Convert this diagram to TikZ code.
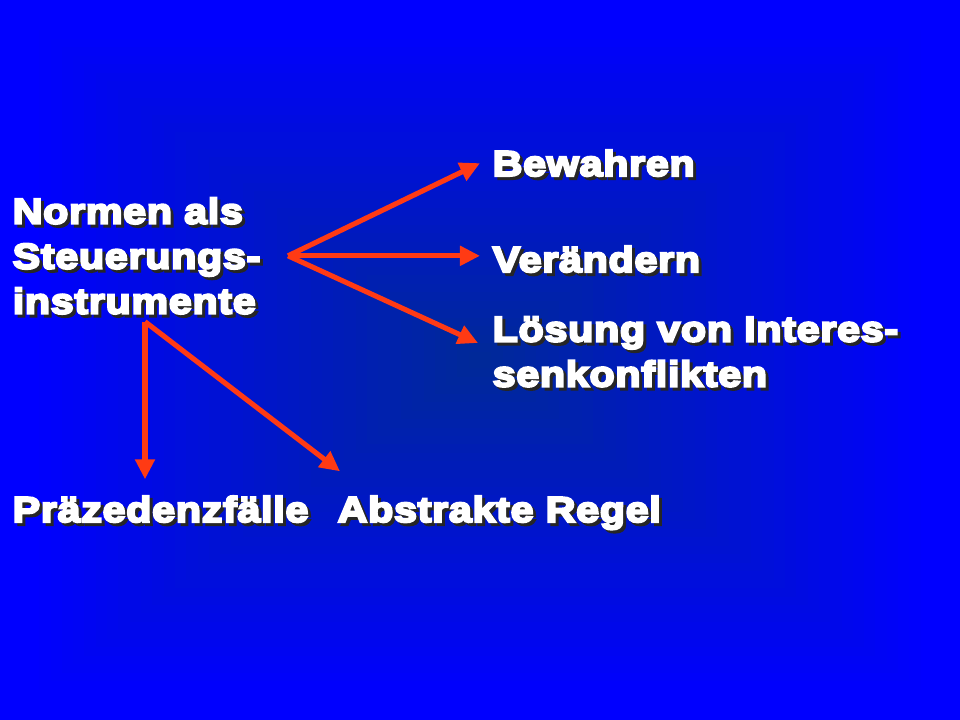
\documentclass[tikz,border=0pt]{standalone}
\usepackage{fontspec}
\newfontfamily\slidefont{Liberation Sans Bold}[FakeStretch=1.15,FakeBold=6,LetterSpace=2]
\usetikzlibrary{arrows.meta,
  calc,
  positioning
}
\definecolor{slideblue}{RGB}{0,0,255}
\definecolor{slidedark}{RGB}{0,42,150}
\definecolor{arrowred}{RGB}{255,58,20}
\tikzset{lbl/.style={inner sep=0, text=white, align=left,
    font=\slidefont\fontsize{10.2pt}{12.8pt}\selectfont},
  shdw/.style={text=black!85},
  arr/.style={arrowred, line width=1.45pt,
    -{Triangle[length=0.2cm, width=0.19cm]}}}
\newcommand{\shtext}[4]{%
  \node[lbl, shdw, anchor=#2] at ([shift={(0.03,-0.03)}]#3) {#4};
  \node[lbl, anchor=#2] (#1) at (#3) {#4};}

\begin{document}
\begin{tikzpicture}
  \useasboundingbox (0,0) rectangle (9.6,7.2);
  % background
  \fill[slideblue] (0,0) rectangle (9.6,7.2);
  \foreach \i in {0,...,39} {
    \pgfmathsetmacro\s{1-\i/40}
    \pgfmathsetmacro\p{\i*2.5}
    \fill[slidedark!\p!slideblue] ({4.8-4.52*\s},{3.6-3.38*\s}) rectangle ({4.8+4.52*\s},{3.6+3.38*\s});
  }

  % texts
  \shtext{norm}{north west}{0.12,5.23}{Normen als\\Steuerungs-\\instrumente}
  \shtext{bew}{base west}{4.92,5.44}{Bewahren}
  \shtext{ver}{base west}{4.92,4.48}{Verändern}
  \shtext{loes}{north west}{4.92,4.04}{Lösung von Interes-\\senkonflikten}
  \shtext{praez}{base west}{0.12,1.98}{Präzedenzfälle}
  \shtext{abstr}{base west}{3.37,1.98}{Abstrakte Regel}

  % forks
  \coordinate (fork) at ([xshift=0.27cm]norm.east);
  \coordinate (lfork) at ([shift={(1.33,-0.07)}]norm.south west);
  \path (lfork |- praez.north) ++(0,0.16) coordinate (ptip);
  \path (fork -| ver.west) ++(-0.12,0) coordinate (vtip);

  % arrows
  \draw[arr] (fork) -- ([xshift=-0.12cm]bew.west);
  \draw[arr] (fork) -- (vtip);
  \draw[arr] (fork) -- ([shift={(-0.14,-0.27)}]loes.north west);
  \draw[arr] (lfork) -- (ptip);
  \draw[arr] (lfork) -- ([shift={(0.03,0.24)}]abstr.north west);
\end{tikzpicture}
\end{document}
